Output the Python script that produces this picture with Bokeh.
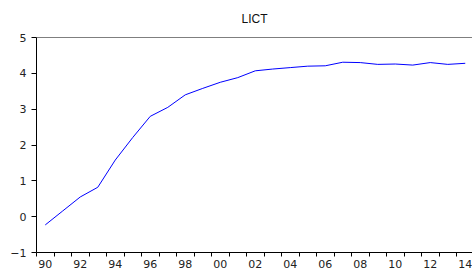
from bokeh.plotting import figure
from bokeh.models import FixedTicker, Range1d, Span
from bokeh.embed import file_html
from bokeh.resources import INLINE

years = list(range(1990, 2015))
lict = [-0.23, 0.16, 0.55, 0.82, 1.58, 2.21, 2.80, 3.05, 3.40, 3.58, 3.75, 3.88,
        4.07, 4.12, 4.16, 4.20, 4.21, 4.31, 4.30, 4.25, 4.26, 4.23, 4.30, 4.25, 4.28]
x_labels = {y: f"{y % 100:02d}" for y in range(1990, 2015, 2)}
y_ticks = [-1, 0, 1, 2, 3, 4, 5]

TITLE_FONT = "Liberation Sans"
TICK_FONT = "DejaVu Sans"

p = figure(width=472, height=270, output_backend="svg", toolbar_location=None,
           x_range=Range1d(1989.5, 2014.414), y_range=Range1d(-1, 5),
           min_border_left=36, min_border_right=0, min_border_top=37, min_border_bottom=17,
           title="LICT")
p.outline_line_color = None
p.background_fill_color = "white"
p.border_fill_color = "white"

p.title.align = "center"
p.title.vertical_align = "top"
p.title.text_font = TITLE_FONT
p.title.text_font_size = "12px"
p.title.text_font_style = "normal"
p.title.text_color = "#111111"
p.title.standoff = 20

p.line(years, lict, line_color="#0000FF", line_width=1)

p.xgrid.visible = False
p.ygrid.visible = False

xa = p.xaxis[0]
xa.ticker = FixedTicker(ticks=list(x_labels.keys()),
                        minor_ticks=[y - 0.5 for y in years] + [years[-1] + 0.5])
xa.major_label_overrides = x_labels
xa.major_tick_out = 0
xa.major_tick_in = 0
xa.minor_tick_out = 4
xa.minor_tick_in = 0
xa.minor_tick_line_color = "black"
xa.axis_line_color = "black"
xa.major_label_standoff = 3
xa.major_label_text_font = TICK_FONT
xa.major_label_text_font_size = "11px"
xa.major_label_text_color = "#222222"

ya = p.yaxis[0]
ya.ticker = FixedTicker(ticks=y_ticks)
ya.major_tick_out = 5
ya.major_tick_in = 0
ya.minor_tick_line_color = None
ya.axis_line_color = "black"
ya.major_label_standoff = 5
ya.major_label_text_font = TICK_FONT
ya.major_label_text_font_size = "11px"
ya.major_label_text_color = "#222222"

p.add_layout(Span(location=5, dimension="width", line_color="black", line_width=1))

open("out.html", "w").write(file_html(p, INLINE))
